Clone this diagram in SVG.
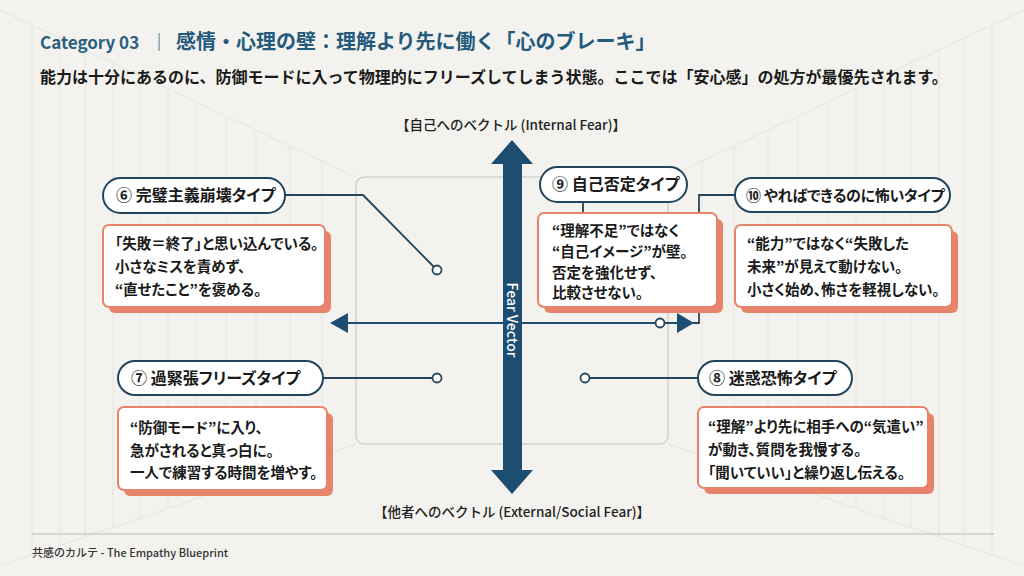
<svg xmlns="http://www.w3.org/2000/svg" width="1024" height="576" viewBox="0 0 1024 576">
<style>
.bg{fill:#f3f2ee}
.wall{stroke:#e6e4de;stroke-width:1;fill:none}
.jp{font-family:"Noto Sans CJK JP","Noto Sans",sans-serif}
.cat{font-size:17px;font-weight:700;fill:#2a5f80}
.title{font-size:20px;font-weight:700;fill:#245a7c}
.sub{font-size:16px;font-weight:700;fill:#1a1a1a}
.axis{font-size:13.5px;font-weight:500;fill:#222}
.pill{fill:#fff;stroke:#22445c;stroke-width:2}
.pilltxt{font-size:16px;font-weight:700;fill:#1a1a1a;font-feature-settings:"palt"}
.card{fill:#fff;stroke:#e8836b;stroke-width:2}
.shadow{fill:#e8836b}
.body{font-size:14.5px;font-weight:700;fill:#1a1a1a;font-feature-settings:"palt"}
.conn{stroke:#24445c;stroke-width:1.8;fill:none}
.dot{fill:#fff;stroke:#24445c;stroke-width:1.8}
.navy{fill:#1d4e71}
</style>
<rect class="bg" x="0" y="0" width="1024" height="576"/>
<g id="background">
<path class="wall" d="M0 10 L356 177 M1024 10 L668 177 M0 566 L356 444 M1024 566 L668 444"/>
<path class="wall" d="M32 25 V555 M60 38 V545 M85 50 V536 M113 63 V527 M140 76 V517 M168 89 V508 M196 102 V498 M226 116 V488 M256 130 V478 M290 146 V466 M322 161 V455"/>
<path class="wall" d="M992 25 V555 M964 38 V545 M939 50 V536 M911 63 V527 M884 76 V517 M856 89 V508 M828 102 V498 M798 116 V488 M768 130 V478 M734 146 V466 M702 161 V455"/>
</g>
<g id="header">
<text class="jp cat" x="40" y="49">Category 03</text>
<text class="jp" x="150" y="49" style="font-size:18px;fill:#2a5f80">｜</text>
<text class="jp title" x="176" y="49">感情・心理の壁：理解より先に働く「心のブレーキ」</text>
<text class="jp sub" x="40" y="83">能力は十分にあるのに、防御モードに入って物理的にフリーズしてしまう状態。ここでは「安心感」の処方が最優先されます。</text>
</g>
<g id="frame">
<rect x="356" y="177" width="312" height="267" rx="8" fill="none" stroke="#d4d2cc" stroke-width="1.5"/>
</g>
<g id="axis-labels">
<text class="jp axis" x="511" y="130" text-anchor="middle">【自己へのベクトル (Internal Fear)】</text>
<text class="jp axis" x="512" y="517" text-anchor="middle">【他者へのベクトル (External/Social Fear)】</text>
</g>
<g id="connectors">
<line x1="345" y1="323" x2="680" y2="323" stroke="#1d4e71" stroke-width="2"/>
<polygon class="navy" points="330,323 348,313 348,333"/>
<polygon class="navy" points="694,323 677,313 677,333"/>
<polyline class="conn" points="693,323 699,323 699,195 735,195"/>
<circle class="dot" cx="660" cy="323" r="4.5"/>
<polyline class="conn" points="285,195 363,195 437,270"/>
<circle class="dot" cx="437" cy="270" r="4.5"/>
<line class="conn" x1="323" y1="378" x2="433" y2="378"/>
<circle class="dot" cx="437" cy="378" r="4.5"/>
<line class="conn" x1="589" y1="378" x2="698" y2="378"/>
<circle class="dot" cx="585" cy="378" r="4.5"/>
<line class="conn" x1="583" y1="202" x2="583" y2="213"/>
</g>
<g id="fear-vector">
<rect class="navy" x="503" y="161" width="19" height="311"/>
<polygon class="navy" points="512,140 533,164 491,164"/>
<polygon class="navy" points="491,470 533,470 512,494"/>
<text class="jp" transform="translate(512.5,320) rotate(90)" text-anchor="middle" dominant-baseline="central" style="font-size:14px;font-weight:500;fill:#fff">Fear Vector</text>
</g>
<g id="type6">
<rect class="pill" x="103" y="178" width="182" height="35" rx="17.5"/>
<text class="jp pilltxt" x="116" y="201">⑥ 完璧主義崩壊タイプ</text>
<rect class="shadow" x="109" y="231" width="222" height="82" rx="6"/>
<rect class="card" x="103" y="225" width="222" height="82" rx="6"/>
<text class="jp body" x="115" y="249">「失敗＝終了」と思い込んでいる。</text>
<text class="jp body" x="115" y="272">小さなミスを責めず、</text>
<text class="jp body" x="115" y="295">“直せたこと”を褒める。</text>
</g>
<g id="type7">
<rect class="pill" x="118" y="361" width="205" height="34" rx="17"/>
<text class="jp pilltxt" x="131" y="384">⑦ 過緊張フリーズタイプ</text>
<rect class="shadow" x="124" y="413" width="209" height="83" rx="6"/>
<rect class="card" x="118" y="407" width="209" height="83" rx="6"/>
<text class="jp body" x="130" y="433">“防御モード”に入り、</text>
<text class="jp body" x="130" y="456">急がされると真っ白に。</text>
<text class="jp body" x="130" y="478">一人で練習する時間を増やす。</text>
</g>
<g id="type8">
<rect class="pill" x="698" y="361" width="154" height="34" rx="17"/>
<text class="jp pilltxt" x="709" y="384">⑧ 迷惑恐怖タイプ</text>
<rect class="shadow" x="704" y="413" width="230" height="81" rx="6"/>
<rect class="card" x="698" y="407" width="230" height="81" rx="6"/>
<text class="jp body" x="708" y="432">“理解”より先に相手への“気遣い”</text>
<text class="jp body" x="708" y="455">が動き、質問を我慢する。</text>
<text class="jp body" x="708" y="478">「聞いていい」と繰り返し伝える。</text>
</g>
<g id="type9">
<rect class="pill" x="540" y="167" width="147" height="35" rx="17.5"/>
<text class="jp pilltxt" x="552" y="190">⑨ 自己否定タイプ</text>
<rect class="shadow" x="544" y="219" width="179" height="94" rx="6"/>
<rect class="card" x="538" y="213" width="179" height="94" rx="6"/>
<text class="jp body" x="552" y="236">“理解不足”ではなく</text>
<text class="jp body" x="552" y="257">“自己イメージ”が壁。</text>
<text class="jp body" x="552" y="278">否定を強化せず、</text>
<text class="jp body" x="552" y="298">比較させない。</text>
</g>
<g id="type10">
<rect class="pill" x="735" y="178" width="215" height="34" rx="17"/>
<text class="jp pilltxt" x="746" y="201" style="font-size:15px;letter-spacing:-0.3px">⑩ やればできるのに怖いタイプ</text>
<rect class="shadow" x="741" y="231" width="217" height="82" rx="6"/>
<rect class="card" x="735" y="225" width="217" height="82" rx="6"/>
<text class="jp body" x="747" y="249">“能力”ではなく“失敗した</text>
<text class="jp body" x="747" y="272">未来”が見えて動けない。</text>
<text class="jp body" x="747" y="295">小さく始め、怖さを軽視しない。</text>
</g>
<g id="footer">
<line x1="32" y1="534" x2="994" y2="534" stroke="#bdbbb6" stroke-width="1"/>
<text class="jp" x="32" y="557" style="font-size:11px;font-weight:500;fill:#333">共感のカルテ - The Empathy Blueprint</text>
</g>
</svg>
